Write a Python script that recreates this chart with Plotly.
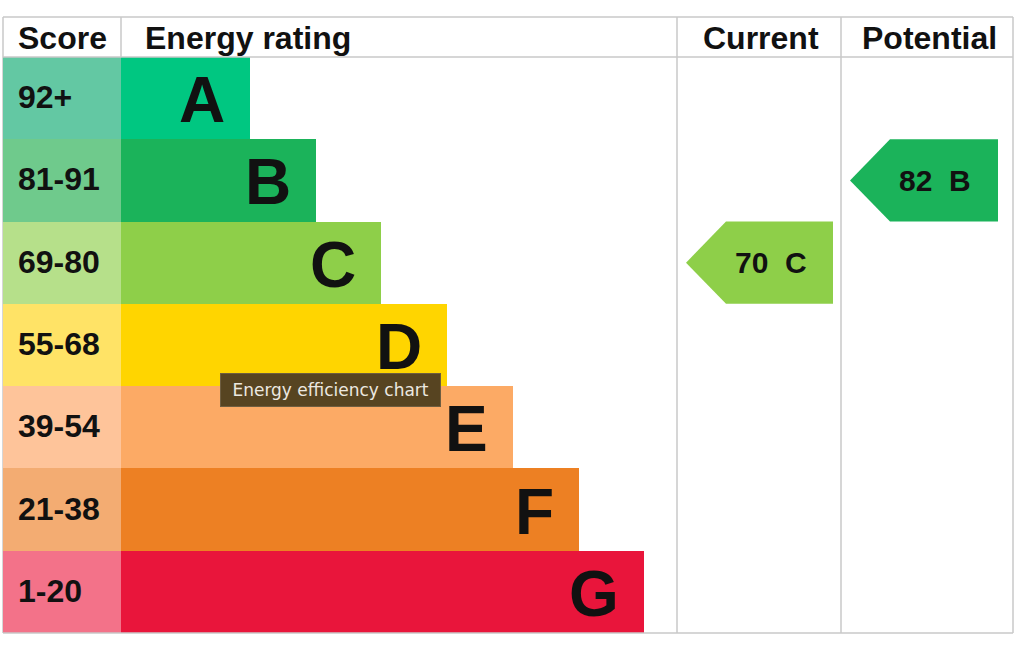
import plotly.graph_objects as go

# EPC bands, top to bottom
bands = ["A", "B", "C", "D", "E", "F", "G"]
score_ranges = ["92+", "81-91", "69-80", "55-68", "39-54", "21-38", "1-20"]
band_min = [92, 81, 69, 55, 39, 21, 1]
bar_colors = ["#00c781", "#1bb35a", "#8ecf49", "#ffd500", "#fcaa65", "#ed8023", "#e9153b"]
score_colors = ["#63c8a3", "#6fca8c", "#b6e08a", "#ffe366", "#fec49a", "#f3ac72", "#f37289"]

current_score = 70
potential_score = 82

headers = ["Score", "Energy rating", "Current", "Potential"]

# table geometry (px)
TOP, HEAD_BOT, BOT = 17, 57, 633
COLS = [3, 121, 677, 841, 1013]
ROW_H = (BOT - HEAD_BOT) / len(bands)
BAR_MIN, BAR_STEP = 129, 65.7
FONT = "Liberation Sans, Arial, sans-serif"
LINE = "#c8c8c8"


def py(px):
    # pixel y -> row units
    return (px - HEAD_BOT) / ROW_H - 0.5


def band_of(score):
    for i, lo in enumerate(band_min):
        if score >= lo:
            return i
    return len(bands) - 1


rows = list(range(len(bands)))
bar_len = [BAR_MIN + BAR_STEP * i for i in rows]

fig = go.Figure()
fig.add_trace(go.Bar(y=rows, x=[COLS[1] - COLS[0]] * len(rows), base=COLS[0],
                     orientation="h", width=1.0,
                     marker=dict(color=score_colors, line=dict(width=0)),
                     hoverinfo="skip"))
fig.add_trace(go.Bar(y=rows, x=bar_len, base=COLS[1],
                     orientation="h", width=1.0,
                     marker=dict(color=bar_colors, line=dict(width=0)),
                     hoverinfo="skip"))

annotations = []
for i in rows:
    annotations.append(dict(x=COLS[1] + bar_len[i] - 23, y=i, text=bands[i], showarrow=False,
                            xanchor="right", yanchor="middle", yshift=-2,
                            font=dict(family=FONT, size=64, color="#111111", weight="bold")))
    annotations.append(dict(x=16, y=i, text=score_ranges[i], showarrow=False,
                            xanchor="left", yanchor="middle", yshift=1,
                            font=dict(family=FONT, size=32, color="#111111", weight="bold")))

# arrows for current / potential
for col, score, right_pad in [(2, current_score, 8), (3, potential_score, 15)]:
    b = band_of(score)
    tip = COLS[col] + 9
    right = COLS[col + 1] - right_pad
    xs = [tip, tip + 40, right, right, tip + 40, tip]
    ys = [b, b - 0.5, b - 0.5, b + 0.5, b + 0.5, b]
    fig.add_trace(go.Scatter(x=xs, y=ys, mode="lines", fill="toself",
                             fillcolor=bar_colors[b], line=dict(width=0),
                             hoverinfo="skip"))
    annotations.append(dict(x=tip + 47, y=b, text=f"{score}\u00a0\u00a0{bands[b]}", showarrow=False,
                            xanchor="left", yanchor="middle",
                            font=dict(family=FONT, size=30, color="#111111", weight="bold")))

# header
hy = py((TOP + HEAD_BOT) / 2)
annotations.append(dict(x=16, y=hy, text=headers[0], showarrow=False, xanchor="left", yshift=-1,
                        font=dict(family=FONT, size=32, color="#111111", weight="bold")))
annotations.append(dict(x=143, y=hy, text=headers[1], showarrow=False, xanchor="left", yshift=-1,
                        font=dict(family=FONT, size=32, color="#111111", weight="bold")))
for col, name in [(2, headers[2]), (3, headers[3])]:
    annotations.append(dict(x=(COLS[col] + COLS[col + 1]) / 2 + 2, y=hy, text=name, showarrow=False,
                            xanchor="center", yshift=-1,
                            font=dict(family=FONT, size=32, color="#111111", weight="bold")))

# browser tooltip seen in the screenshot
annotations.append(dict(x=220, y=py(390), text="\u00a0Energy efficiency chart\u00a0", showarrow=False,
                        xanchor="left", yanchor="middle", bgcolor="#574421",
                        bordercolor="#6e5d40", borderwidth=1, borderpad=6,
                        font=dict(family="DejaVu Sans, sans-serif", size=17, color="#ece8e0")))

# table lines
shapes = []
for y in [TOP, HEAD_BOT, BOT]:
    shapes.append(dict(type="line", x0=COLS[0], x1=COLS[-1], y0=py(y), y1=py(y),
                       line=dict(color=LINE, width=1.5), layer="above"))
shapes.append(dict(type="line", x0=COLS[0], x1=COLS[0], y0=py(TOP), y1=py(BOT),
                   line=dict(color=LINE, width=1.5), layer="below"))
shapes.append(dict(type="line", x0=COLS[1], x1=COLS[1], y0=py(TOP), y1=py(HEAD_BOT),
                   line=dict(color=LINE, width=1.5), layer="below"))
for c in COLS[2:]:
    shapes.append(dict(type="line", x0=c, x1=c, y0=py(TOP), y1=py(BOT),
                       line=dict(color=LINE, width=1.5), layer="below"))

fig.update_layout(
    width=1024, height=648,
    margin=dict(l=0, r=0, t=0, b=0),
    paper_bgcolor="#ffffff", plot_bgcolor="#ffffff",
    showlegend=False, barmode="overlay", bargap=0,
    annotations=annotations, shapes=shapes,
)
fig.update_xaxes(range=[0, 1024], visible=False, fixedrange=True)
fig.update_yaxes(range=[py(648), py(0)], visible=False, fixedrange=True)

# drop the default body margin so the figure sits at the window corner
fig.write_html("out.html", config={"displayModeBar": False},
               post_script="document.body.style.margin='0';")
